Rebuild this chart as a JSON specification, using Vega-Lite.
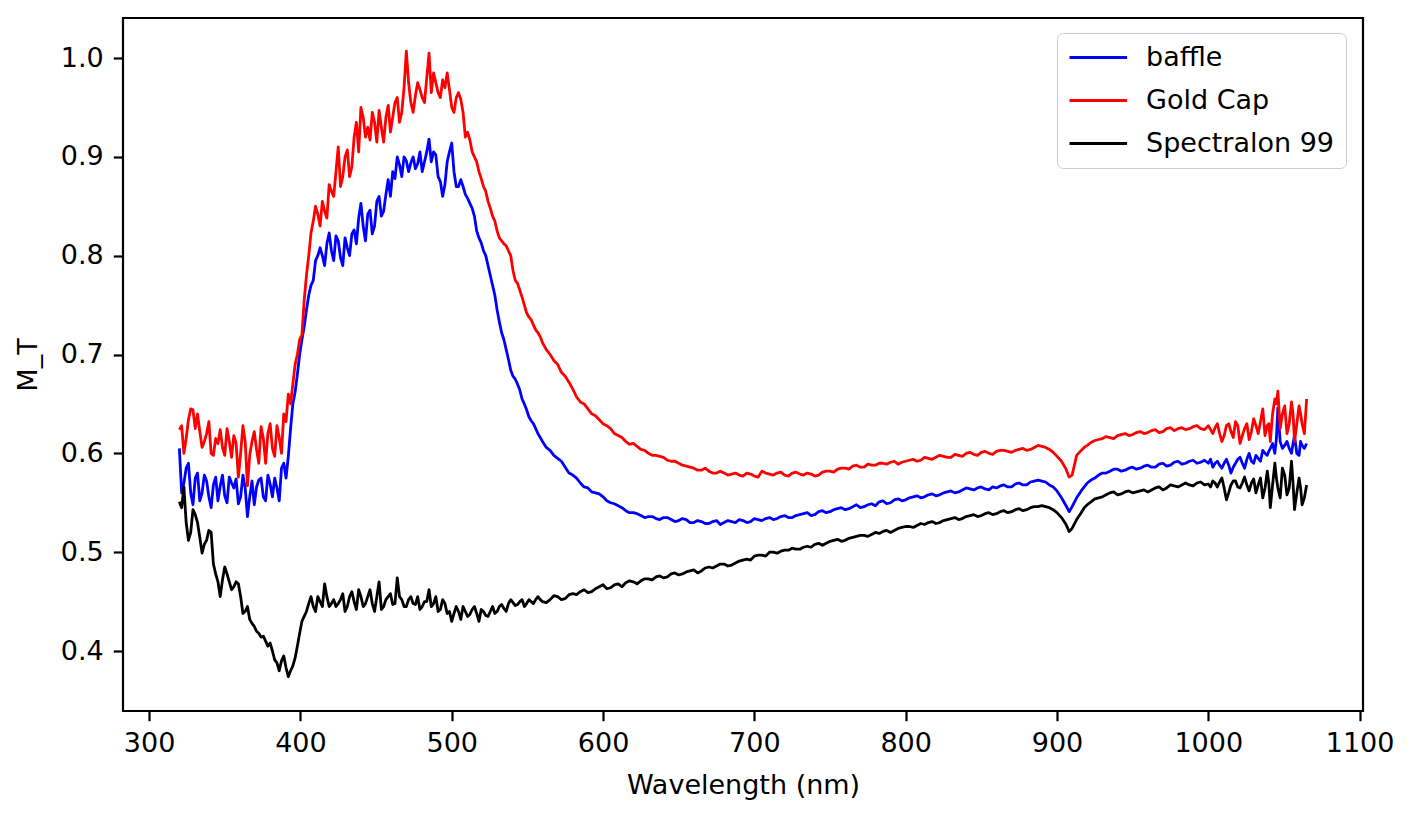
{
  "$schema": "https://vega.github.io/schema/vega-lite/v6.json",
  "autosize": "none",
  "width": 1240,
  "height": 693,
  "padding": {"left": 123, "top": 18, "right": 52, "bottom": 108},
  "background": "white",
  "config": {
    "font": "DejaVu Sans",
    "view": {"stroke": "black", "strokeWidth": 2.2},
    "axis": {
      "domain": false,
      "grid": false,
      "tickColor": "black",
      "tickWidth": 2.2,
      "tickSize": 9.7,
      "labelColor": "black",
      "labelFont": "DejaVu Sans",
      "labelFontSize": 27,
      "labelPadding": 10,
      "titleColor": "black",
      "titleFont": "DejaVu Sans",
      "titleFontSize": 27,
      "titleFontWeight": "normal"
    }
  },
  "data": {
    "values": [
      {"w": 320, "baffle": 0.605, "Gold Cap": 0.624, "Spectralon 99": 0.551},
      {"w": 323, "baffle": 0.570, "Gold Cap": 0.600, "Spectralon 99": 0.566},
      {"w": 326, "baffle": 0.590, "Gold Cap": 0.634, "Spectralon 99": 0.512},
      {"w": 329, "baffle": 0.548, "Gold Cap": 0.644, "Spectralon 99": 0.543},
      {"w": 332, "baffle": 0.580, "Gold Cap": 0.640, "Spectralon 99": 0.530},
      {"w": 335, "baffle": 0.560, "Gold Cap": 0.606, "Spectralon 99": 0.499},
      {"w": 338, "baffle": 0.572, "Gold Cap": 0.620, "Spectralon 99": 0.512},
      {"w": 341, "baffle": 0.545, "Gold Cap": 0.600, "Spectralon 99": 0.520},
      {"w": 344, "baffle": 0.576, "Gold Cap": 0.615, "Spectralon 99": 0.478},
      {"w": 347, "baffle": 0.567, "Gold Cap": 0.624, "Spectralon 99": 0.455},
      {"w": 350, "baffle": 0.557, "Gold Cap": 0.598, "Spectralon 99": 0.485},
      {"w": 353, "baffle": 0.576, "Gold Cap": 0.612, "Spectralon 99": 0.470},
      {"w": 356, "baffle": 0.565, "Gold Cap": 0.618, "Spectralon 99": 0.465},
      {"w": 359, "baffle": 0.549, "Gold Cap": 0.576, "Spectralon 99": 0.468},
      {"w": 362, "baffle": 0.578, "Gold Cap": 0.628, "Spectralon 99": 0.438},
      {"w": 365, "baffle": 0.536, "Gold Cap": 0.567, "Spectralon 99": 0.445},
      {"w": 368, "baffle": 0.572, "Gold Cap": 0.612, "Spectralon 99": 0.428},
      {"w": 371, "baffle": 0.566, "Gold Cap": 0.604, "Spectralon 99": 0.420},
      {"w": 374, "baffle": 0.575, "Gold Cap": 0.627, "Spectralon 99": 0.414},
      {"w": 377, "baffle": 0.552, "Gold Cap": 0.590, "Spectralon 99": 0.410},
      {"w": 380, "baffle": 0.569, "Gold Cap": 0.630, "Spectralon 99": 0.408},
      {"w": 383, "baffle": 0.575, "Gold Cap": 0.597, "Spectralon 99": 0.391},
      {"w": 386, "baffle": 0.552, "Gold Cap": 0.616, "Spectralon 99": 0.380},
      {"w": 389, "baffle": 0.590, "Gold Cap": 0.640, "Spectralon 99": 0.395},
      {"w": 392, "baffle": 0.597, "Gold Cap": 0.660, "Spectralon 99": 0.374},
      {"w": 395, "baffle": 0.650, "Gold Cap": 0.670, "Spectralon 99": 0.385},
      {"w": 398, "baffle": 0.680, "Gold Cap": 0.700, "Spectralon 99": 0.405},
      {"w": 401, "baffle": 0.715, "Gold Cap": 0.720, "Spectralon 99": 0.430},
      {"w": 404, "baffle": 0.745, "Gold Cap": 0.780, "Spectralon 99": 0.440},
      {"w": 407, "baffle": 0.770, "Gold Cap": 0.823, "Spectralon 99": 0.455},
      {"w": 410, "baffle": 0.795, "Gold Cap": 0.850, "Spectralon 99": 0.440},
      {"w": 413, "baffle": 0.808, "Gold Cap": 0.830, "Spectralon 99": 0.450},
      {"w": 416, "baffle": 0.790, "Gold Cap": 0.845, "Spectralon 99": 0.468},
      {"w": 419, "baffle": 0.823, "Gold Cap": 0.872, "Spectralon 99": 0.445},
      {"w": 422, "baffle": 0.795, "Gold Cap": 0.860, "Spectralon 99": 0.452},
      {"w": 425, "baffle": 0.815, "Gold Cap": 0.910, "Spectralon 99": 0.448},
      {"w": 428, "baffle": 0.790, "Gold Cap": 0.880, "Spectralon 99": 0.458},
      {"w": 431, "baffle": 0.808, "Gold Cap": 0.907, "Spectralon 99": 0.445},
      {"w": 434, "baffle": 0.822, "Gold Cap": 0.890, "Spectralon 99": 0.460},
      {"w": 437, "baffle": 0.812, "Gold Cap": 0.935, "Spectralon 99": 0.442},
      {"w": 440, "baffle": 0.853, "Gold Cap": 0.950, "Spectralon 99": 0.455},
      {"w": 443, "baffle": 0.815, "Gold Cap": 0.920, "Spectralon 99": 0.448},
      {"w": 446, "baffle": 0.846, "Gold Cap": 0.917, "Spectralon 99": 0.462},
      {"w": 449, "baffle": 0.830, "Gold Cap": 0.935, "Spectralon 99": 0.440},
      {"w": 452, "baffle": 0.860, "Gold Cap": 0.947, "Spectralon 99": 0.470},
      {"w": 455, "baffle": 0.845, "Gold Cap": 0.915, "Spectralon 99": 0.445},
      {"w": 458, "baffle": 0.877, "Gold Cap": 0.952, "Spectralon 99": 0.455},
      {"w": 461, "baffle": 0.885, "Gold Cap": 0.940, "Spectralon 99": 0.447},
      {"w": 464, "baffle": 0.900, "Gold Cap": 0.960, "Spectralon 99": 0.474},
      {"w": 467, "baffle": 0.880, "Gold Cap": 0.945, "Spectralon 99": 0.452},
      {"w": 470, "baffle": 0.896, "Gold Cap": 1.007, "Spectralon 99": 0.445},
      {"w": 473, "baffle": 0.894, "Gold Cap": 0.955, "Spectralon 99": 0.455},
      {"w": 476, "baffle": 0.888, "Gold Cap": 0.962, "Spectralon 99": 0.447},
      {"w": 479, "baffle": 0.905, "Gold Cap": 0.968, "Spectralon 99": 0.442},
      {"w": 482, "baffle": 0.895, "Gold Cap": 0.955, "Spectralon 99": 0.450},
      {"w": 485, "baffle": 0.918, "Gold Cap": 1.005, "Spectralon 99": 0.462},
      {"w": 488, "baffle": 0.905, "Gold Cap": 0.985, "Spectralon 99": 0.448},
      {"w": 491, "baffle": 0.880, "Gold Cap": 0.965, "Spectralon 99": 0.440},
      {"w": 494, "baffle": 0.860, "Gold Cap": 0.978, "Spectralon 99": 0.452},
      {"w": 497, "baffle": 0.895, "Gold Cap": 0.985, "Spectralon 99": 0.438},
      {"w": 500, "baffle": 0.914, "Gold Cap": 0.950, "Spectralon 99": 0.430},
      {"w": 503, "baffle": 0.870, "Gold Cap": 0.960, "Spectralon 99": 0.445},
      {"w": 506, "baffle": 0.877, "Gold Cap": 0.958, "Spectralon 99": 0.432},
      {"w": 509, "baffle": 0.862, "Gold Cap": 0.920, "Spectralon 99": 0.440},
      {"w": 512, "baffle": 0.853, "Gold Cap": 0.917, "Spectralon 99": 0.437},
      {"w": 515, "baffle": 0.840, "Gold Cap": 0.900, "Spectralon 99": 0.445},
      {"w": 518, "baffle": 0.818, "Gold Cap": 0.885, "Spectralon 99": 0.430},
      {"w": 521, "baffle": 0.805, "Gold Cap": 0.870, "Spectralon 99": 0.440},
      {"w": 524, "baffle": 0.790, "Gold Cap": 0.855, "Spectralon 99": 0.435},
      {"w": 527, "baffle": 0.770, "Gold Cap": 0.840, "Spectralon 99": 0.445},
      {"w": 530, "baffle": 0.745, "Gold Cap": 0.825, "Spectralon 99": 0.440},
      {"w": 533, "baffle": 0.722, "Gold Cap": 0.815, "Spectralon 99": 0.447},
      {"w": 536, "baffle": 0.705, "Gold Cap": 0.810, "Spectralon 99": 0.440},
      {"w": 539, "baffle": 0.684, "Gold Cap": 0.800, "Spectralon 99": 0.452},
      {"w": 542, "baffle": 0.675, "Gold Cap": 0.775, "Spectralon 99": 0.446},
      {"w": 545, "baffle": 0.664, "Gold Cap": 0.765, "Spectralon 99": 0.450},
      {"w": 548, "baffle": 0.650, "Gold Cap": 0.750, "Spectralon 99": 0.445},
      {"w": 551, "baffle": 0.637, "Gold Cap": 0.738, "Spectralon 99": 0.452},
      {"w": 554, "baffle": 0.630, "Gold Cap": 0.730, "Spectralon 99": 0.448},
      {"w": 557, "baffle": 0.620, "Gold Cap": 0.722, "Spectralon 99": 0.455},
      {"w": 560, "baffle": 0.612, "Gold Cap": 0.712, "Spectralon 99": 0.450},
      {"w": 565, "baffle": 0.603, "Gold Cap": 0.700, "Spectralon 99": 0.452},
      {"w": 570, "baffle": 0.595, "Gold Cap": 0.690, "Spectralon 99": 0.455},
      {"w": 575, "baffle": 0.586, "Gold Cap": 0.678, "Spectralon 99": 0.453},
      {"w": 580, "baffle": 0.578, "Gold Cap": 0.665, "Spectralon 99": 0.458},
      {"w": 585, "baffle": 0.570, "Gold Cap": 0.652, "Spectralon 99": 0.460},
      {"w": 590, "baffle": 0.565, "Gold Cap": 0.645, "Spectralon 99": 0.459},
      {"w": 595, "baffle": 0.560, "Gold Cap": 0.638, "Spectralon 99": 0.463},
      {"w": 600, "baffle": 0.556, "Gold Cap": 0.630, "Spectralon 99": 0.467},
      {"w": 605, "baffle": 0.550, "Gold Cap": 0.625, "Spectralon 99": 0.464},
      {"w": 610, "baffle": 0.547, "Gold Cap": 0.618, "Spectralon 99": 0.468},
      {"w": 615, "baffle": 0.542, "Gold Cap": 0.612, "Spectralon 99": 0.469},
      {"w": 620, "baffle": 0.540, "Gold Cap": 0.610, "Spectralon 99": 0.470},
      {"w": 625, "baffle": 0.537, "Gold Cap": 0.604, "Spectralon 99": 0.471},
      {"w": 630, "baffle": 0.536, "Gold Cap": 0.600, "Spectralon 99": 0.473},
      {"w": 635, "baffle": 0.534, "Gold Cap": 0.598, "Spectralon 99": 0.475},
      {"w": 640, "baffle": 0.535, "Gold Cap": 0.596, "Spectralon 99": 0.474},
      {"w": 645, "baffle": 0.533, "Gold Cap": 0.592, "Spectralon 99": 0.478},
      {"w": 650, "baffle": 0.532, "Gold Cap": 0.590, "Spectralon 99": 0.477},
      {"w": 655, "baffle": 0.533, "Gold Cap": 0.587, "Spectralon 99": 0.480},
      {"w": 660, "baffle": 0.530, "Gold Cap": 0.585, "Spectralon 99": 0.482},
      {"w": 665, "baffle": 0.531, "Gold Cap": 0.583, "Spectralon 99": 0.481},
      {"w": 670, "baffle": 0.529, "Gold Cap": 0.582, "Spectralon 99": 0.485},
      {"w": 675, "baffle": 0.532, "Gold Cap": 0.580, "Spectralon 99": 0.486},
      {"w": 680, "baffle": 0.530, "Gold Cap": 0.580, "Spectralon 99": 0.488},
      {"w": 685, "baffle": 0.531, "Gold Cap": 0.579, "Spectralon 99": 0.487},
      {"w": 690, "baffle": 0.533, "Gold Cap": 0.578, "Spectralon 99": 0.491},
      {"w": 695, "baffle": 0.530, "Gold Cap": 0.580, "Spectralon 99": 0.493},
      {"w": 700, "baffle": 0.534, "Gold Cap": 0.577, "Spectralon 99": 0.496},
      {"w": 705, "baffle": 0.532, "Gold Cap": 0.582, "Spectralon 99": 0.497},
      {"w": 710, "baffle": 0.535, "Gold Cap": 0.579, "Spectralon 99": 0.500},
      {"w": 715, "baffle": 0.534, "Gold Cap": 0.580, "Spectralon 99": 0.499},
      {"w": 720, "baffle": 0.537, "Gold Cap": 0.578, "Spectralon 99": 0.502},
      {"w": 725, "baffle": 0.535, "Gold Cap": 0.580, "Spectralon 99": 0.504},
      {"w": 730, "baffle": 0.538, "Gold Cap": 0.579, "Spectralon 99": 0.503},
      {"w": 735, "baffle": 0.540, "Gold Cap": 0.580, "Spectralon 99": 0.506},
      {"w": 740, "baffle": 0.538, "Gold Cap": 0.577, "Spectralon 99": 0.508},
      {"w": 745, "baffle": 0.542, "Gold Cap": 0.581, "Spectralon 99": 0.507},
      {"w": 750, "baffle": 0.541, "Gold Cap": 0.582, "Spectralon 99": 0.511},
      {"w": 755, "baffle": 0.544, "Gold Cap": 0.584, "Spectralon 99": 0.513},
      {"w": 760, "baffle": 0.543, "Gold Cap": 0.585, "Spectralon 99": 0.512},
      {"w": 765, "baffle": 0.546, "Gold Cap": 0.587, "Spectralon 99": 0.515},
      {"w": 770, "baffle": 0.545, "Gold Cap": 0.586, "Spectralon 99": 0.517},
      {"w": 775, "baffle": 0.548, "Gold Cap": 0.589, "Spectralon 99": 0.516},
      {"w": 780, "baffle": 0.547, "Gold Cap": 0.588, "Spectralon 99": 0.520},
      {"w": 785, "baffle": 0.552, "Gold Cap": 0.590, "Spectralon 99": 0.521},
      {"w": 790, "baffle": 0.550, "Gold Cap": 0.591, "Spectralon 99": 0.520},
      {"w": 795, "baffle": 0.554, "Gold Cap": 0.589, "Spectralon 99": 0.524},
      {"w": 800, "baffle": 0.553, "Gold Cap": 0.592, "Spectralon 99": 0.526},
      {"w": 805, "baffle": 0.556, "Gold Cap": 0.594, "Spectralon 99": 0.525},
      {"w": 810, "baffle": 0.555, "Gold Cap": 0.593, "Spectralon 99": 0.529},
      {"w": 815, "baffle": 0.558, "Gold Cap": 0.595, "Spectralon 99": 0.530},
      {"w": 820, "baffle": 0.557, "Gold Cap": 0.596, "Spectralon 99": 0.529},
      {"w": 825, "baffle": 0.560, "Gold Cap": 0.597, "Spectralon 99": 0.532},
      {"w": 830, "baffle": 0.562, "Gold Cap": 0.596, "Spectralon 99": 0.534},
      {"w": 835, "baffle": 0.561, "Gold Cap": 0.598, "Spectralon 99": 0.533},
      {"w": 840, "baffle": 0.565, "Gold Cap": 0.600, "Spectralon 99": 0.536},
      {"w": 845, "baffle": 0.563, "Gold Cap": 0.599, "Spectralon 99": 0.538},
      {"w": 850, "baffle": 0.566, "Gold Cap": 0.601, "Spectralon 99": 0.537},
      {"w": 855, "baffle": 0.563, "Gold Cap": 0.600, "Spectralon 99": 0.540},
      {"w": 860, "baffle": 0.565, "Gold Cap": 0.602, "Spectralon 99": 0.539},
      {"w": 865, "baffle": 0.568, "Gold Cap": 0.603, "Spectralon 99": 0.542},
      {"w": 870, "baffle": 0.566, "Gold Cap": 0.601, "Spectralon 99": 0.541},
      {"w": 875, "baffle": 0.570, "Gold Cap": 0.604, "Spectralon 99": 0.544},
      {"w": 880, "baffle": 0.568, "Gold Cap": 0.603, "Spectralon 99": 0.543},
      {"w": 885, "baffle": 0.572, "Gold Cap": 0.606, "Spectralon 99": 0.546},
      {"w": 890, "baffle": 0.572, "Gold Cap": 0.607, "Spectralon 99": 0.547},
      {"w": 895, "baffle": 0.568, "Gold Cap": 0.604, "Spectralon 99": 0.545},
      {"w": 900, "baffle": 0.562, "Gold Cap": 0.597, "Spectralon 99": 0.540},
      {"w": 903, "baffle": 0.555, "Gold Cap": 0.592, "Spectralon 99": 0.535},
      {"w": 906, "baffle": 0.547, "Gold Cap": 0.584, "Spectralon 99": 0.528},
      {"w": 908, "baffle": 0.541, "Gold Cap": 0.576, "Spectralon 99": 0.521},
      {"w": 910, "baffle": 0.546, "Gold Cap": 0.578, "Spectralon 99": 0.524},
      {"w": 913, "baffle": 0.555, "Gold Cap": 0.598, "Spectralon 99": 0.533},
      {"w": 916, "baffle": 0.562, "Gold Cap": 0.603, "Spectralon 99": 0.540},
      {"w": 920, "baffle": 0.570, "Gold Cap": 0.608, "Spectralon 99": 0.548},
      {"w": 925, "baffle": 0.575, "Gold Cap": 0.613, "Spectralon 99": 0.554},
      {"w": 930, "baffle": 0.580, "Gold Cap": 0.615, "Spectralon 99": 0.556},
      {"w": 935, "baffle": 0.582, "Gold Cap": 0.616, "Spectralon 99": 0.560},
      {"w": 940, "baffle": 0.584, "Gold Cap": 0.618, "Spectralon 99": 0.558},
      {"w": 945, "baffle": 0.583, "Gold Cap": 0.620, "Spectralon 99": 0.561},
      {"w": 950, "baffle": 0.586, "Gold Cap": 0.619, "Spectralon 99": 0.560},
      {"w": 955, "baffle": 0.585, "Gold Cap": 0.622, "Spectralon 99": 0.562},
      {"w": 960, "baffle": 0.588, "Gold Cap": 0.621, "Spectralon 99": 0.561},
      {"w": 965, "baffle": 0.586, "Gold Cap": 0.624, "Spectralon 99": 0.565},
      {"w": 970, "baffle": 0.590, "Gold Cap": 0.622, "Spectralon 99": 0.563},
      {"w": 975, "baffle": 0.588, "Gold Cap": 0.626, "Spectralon 99": 0.568},
      {"w": 980, "baffle": 0.592, "Gold Cap": 0.625, "Spectralon 99": 0.566},
      {"w": 985, "baffle": 0.590, "Gold Cap": 0.624, "Spectralon 99": 0.570},
      {"w": 990, "baffle": 0.593, "Gold Cap": 0.627, "Spectralon 99": 0.567},
      {"w": 995, "baffle": 0.591, "Gold Cap": 0.625, "Spectralon 99": 0.571},
      {"w": 1000, "baffle": 0.590, "Gold Cap": 0.628, "Spectralon 99": 0.569},
      {"w": 1003, "baffle": 0.586, "Gold Cap": 0.620, "Spectralon 99": 0.572},
      {"w": 1006, "baffle": 0.592, "Gold Cap": 0.630, "Spectralon 99": 0.566},
      {"w": 1009, "baffle": 0.585, "Gold Cap": 0.612, "Spectralon 99": 0.575},
      {"w": 1012, "baffle": 0.594, "Gold Cap": 0.628, "Spectralon 99": 0.553},
      {"w": 1015, "baffle": 0.580, "Gold Cap": 0.622, "Spectralon 99": 0.568},
      {"w": 1018, "baffle": 0.590, "Gold Cap": 0.632, "Spectralon 99": 0.572},
      {"w": 1021, "baffle": 0.596, "Gold Cap": 0.610, "Spectralon 99": 0.565},
      {"w": 1024, "baffle": 0.585, "Gold Cap": 0.625, "Spectralon 99": 0.576},
      {"w": 1027, "baffle": 0.600, "Gold Cap": 0.614, "Spectralon 99": 0.562},
      {"w": 1030, "baffle": 0.590, "Gold Cap": 0.635, "Spectralon 99": 0.574},
      {"w": 1033, "baffle": 0.595, "Gold Cap": 0.620, "Spectralon 99": 0.568},
      {"w": 1036, "baffle": 0.603, "Gold Cap": 0.645, "Spectralon 99": 0.555},
      {"w": 1039, "baffle": 0.598, "Gold Cap": 0.628, "Spectralon 99": 0.582},
      {"w": 1041, "baffle": 0.605, "Gold Cap": 0.612, "Spectralon 99": 0.545},
      {"w": 1044, "baffle": 0.600, "Gold Cap": 0.655, "Spectralon 99": 0.590},
      {"w": 1046, "baffle": 0.646, "Gold Cap": 0.663, "Spectralon 99": 0.565},
      {"w": 1049, "baffle": 0.605, "Gold Cap": 0.640, "Spectralon 99": 0.585},
      {"w": 1052, "baffle": 0.612, "Gold Cap": 0.620, "Spectralon 99": 0.558},
      {"w": 1055, "baffle": 0.600, "Gold Cap": 0.652, "Spectralon 99": 0.592},
      {"w": 1057, "baffle": 0.618, "Gold Cap": 0.612, "Spectralon 99": 0.543},
      {"w": 1060, "baffle": 0.598, "Gold Cap": 0.648, "Spectralon 99": 0.575},
      {"w": 1062, "baffle": 0.608, "Gold Cap": 0.630, "Spectralon 99": 0.548},
      {"w": 1065, "baffle": 0.610, "Gold Cap": 0.655, "Spectralon 99": 0.568},
      {"w": 321.5, "baffle": 0.560, "Gold Cap": 0.628, "Spectralon 99": 0.545},
      {"w": 324.5, "baffle": 0.585, "Gold Cap": 0.615, "Spectralon 99": 0.530},
      {"w": 327.5, "baffle": 0.560, "Gold Cap": 0.645, "Spectralon 99": 0.520},
      {"w": 330.5, "baffle": 0.575, "Gold Cap": 0.625, "Spectralon 99": 0.538},
      {"w": 333.5, "baffle": 0.552, "Gold Cap": 0.622, "Spectralon 99": 0.515},
      {"w": 336.5, "baffle": 0.578, "Gold Cap": 0.612, "Spectralon 99": 0.508},
      {"w": 339.5, "baffle": 0.556, "Gold Cap": 0.632, "Spectralon 99": 0.522},
      {"w": 342.5, "baffle": 0.568, "Gold Cap": 0.598, "Spectralon 99": 0.488},
      {"w": 345.5, "baffle": 0.552, "Gold Cap": 0.610, "Spectralon 99": 0.470},
      {"w": 348.5, "baffle": 0.578, "Gold Cap": 0.606, "Spectralon 99": 0.472},
      {"w": 351.5, "baffle": 0.550, "Gold Cap": 0.625, "Spectralon 99": 0.478},
      {"w": 354.5, "baffle": 0.570, "Gold Cap": 0.596, "Spectralon 99": 0.462},
      {"w": 357.5, "baffle": 0.574, "Gold Cap": 0.610, "Spectralon 99": 0.470},
      {"w": 360.5, "baffle": 0.556, "Gold Cap": 0.600, "Spectralon 99": 0.455},
      {"w": 363.5, "baffle": 0.565, "Gold Cap": 0.612, "Spectralon 99": 0.440},
      {"w": 366.5, "baffle": 0.556, "Gold Cap": 0.598, "Spectralon 99": 0.432},
      {"w": 369.5, "baffle": 0.548, "Gold Cap": 0.622, "Spectralon 99": 0.425},
      {"w": 372.5, "baffle": 0.573, "Gold Cap": 0.590, "Spectralon 99": 0.418},
      {"w": 375.5, "baffle": 0.556, "Gold Cap": 0.615, "Spectralon 99": 0.415},
      {"w": 378.5, "baffle": 0.578, "Gold Cap": 0.620, "Spectralon 99": 0.405},
      {"w": 381.5, "baffle": 0.556, "Gold Cap": 0.605, "Spectralon 99": 0.400},
      {"w": 384.5, "baffle": 0.565, "Gold Cap": 0.628, "Spectralon 99": 0.388},
      {"w": 387.5, "baffle": 0.585, "Gold Cap": 0.600, "Spectralon 99": 0.390},
      {"w": 390.5, "baffle": 0.575, "Gold Cap": 0.632, "Spectralon 99": 0.383},
      {"w": 393.5, "baffle": 0.625, "Gold Cap": 0.650, "Spectralon 99": 0.380},
      {"w": 396.5, "baffle": 0.662, "Gold Cap": 0.690, "Spectralon 99": 0.393},
      {"w": 399.5, "baffle": 0.700, "Gold Cap": 0.715, "Spectralon 99": 0.418},
      {"w": 402.5, "baffle": 0.728, "Gold Cap": 0.755, "Spectralon 99": 0.435},
      {"w": 405.5, "baffle": 0.760, "Gold Cap": 0.800, "Spectralon 99": 0.448},
      {"w": 408.5, "baffle": 0.775, "Gold Cap": 0.835, "Spectralon 99": 0.445},
      {"w": 411.5, "baffle": 0.800, "Gold Cap": 0.842, "Spectralon 99": 0.455},
      {"w": 414.5, "baffle": 0.800, "Gold Cap": 0.855, "Spectralon 99": 0.445},
      {"w": 417.5, "baffle": 0.812, "Gold Cap": 0.838, "Spectralon 99": 0.455},
      {"w": 420.5, "baffle": 0.805, "Gold Cap": 0.865, "Spectralon 99": 0.448},
      {"w": 423.5, "baffle": 0.820, "Gold Cap": 0.885, "Spectralon 99": 0.445},
      {"w": 426.5, "baffle": 0.798, "Gold Cap": 0.870, "Spectralon 99": 0.452},
      {"w": 429.5, "baffle": 0.818, "Gold Cap": 0.900, "Spectralon 99": 0.440},
      {"w": 432.5, "baffle": 0.800, "Gold Cap": 0.880, "Spectralon 99": 0.455},
      {"w": 435.5, "baffle": 0.826, "Gold Cap": 0.920, "Spectralon 99": 0.450},
      {"w": 438.5, "baffle": 0.838, "Gold Cap": 0.905, "Spectralon 99": 0.462},
      {"w": 441.5, "baffle": 0.830, "Gold Cap": 0.940, "Spectralon 99": 0.445},
      {"w": 444.5, "baffle": 0.842, "Gold Cap": 0.930, "Spectralon 99": 0.455},
      {"w": 447.5, "baffle": 0.822, "Gold Cap": 0.945, "Spectralon 99": 0.448},
      {"w": 450.5, "baffle": 0.855, "Gold Cap": 0.915, "Spectralon 99": 0.455},
      {"w": 453.5, "baffle": 0.840, "Gold Cap": 0.930, "Spectralon 99": 0.442},
      {"w": 456.5, "baffle": 0.862, "Gold Cap": 0.940, "Spectralon 99": 0.452},
      {"w": 459.5, "baffle": 0.860, "Gold Cap": 0.925, "Spectralon 99": 0.458},
      {"w": 462.5, "baffle": 0.878, "Gold Cap": 0.955, "Spectralon 99": 0.448},
      {"w": 465.5, "baffle": 0.892, "Gold Cap": 0.935, "Spectralon 99": 0.455},
      {"w": 468.5, "baffle": 0.900, "Gold Cap": 0.970, "Spectralon 99": 0.445},
      {"w": 471.5, "baffle": 0.885, "Gold Cap": 0.975, "Spectralon 99": 0.452},
      {"w": 474.5, "baffle": 0.900, "Gold Cap": 0.945, "Spectralon 99": 0.448},
      {"w": 477.5, "baffle": 0.893, "Gold Cap": 0.975, "Spectralon 99": 0.455},
      {"w": 480.5, "baffle": 0.885, "Gold Cap": 0.960, "Spectralon 99": 0.445},
      {"w": 483.5, "baffle": 0.905, "Gold Cap": 0.980, "Spectralon 99": 0.450},
      {"w": 486.5, "baffle": 0.895, "Gold Cap": 0.965, "Spectralon 99": 0.445},
      {"w": 489.5, "baffle": 0.902, "Gold Cap": 0.975, "Spectralon 99": 0.455},
      {"w": 492.5, "baffle": 0.875, "Gold Cap": 0.960, "Spectralon 99": 0.442},
      {"w": 495.5, "baffle": 0.872, "Gold Cap": 0.970, "Spectralon 99": 0.448},
      {"w": 498.5, "baffle": 0.905, "Gold Cap": 0.968, "Spectralon 99": 0.440},
      {"w": 501.5, "baffle": 0.885, "Gold Cap": 0.945, "Spectralon 99": 0.438},
      {"w": 504.5, "baffle": 0.870, "Gold Cap": 0.965, "Spectralon 99": 0.440},
      {"w": 507.5, "baffle": 0.870, "Gold Cap": 0.945, "Spectralon 99": 0.445},
      {"w": 510.5, "baffle": 0.858, "Gold Cap": 0.925, "Spectralon 99": 0.435},
      {"w": 513.5, "baffle": 0.848, "Gold Cap": 0.905, "Spectralon 99": 0.442},
      {"w": 516.5, "baffle": 0.825, "Gold Cap": 0.895, "Spectralon 99": 0.438},
      {"w": 519.5, "baffle": 0.813, "Gold Cap": 0.878, "Spectralon 99": 0.442},
      {"w": 522.5, "baffle": 0.800, "Gold Cap": 0.865, "Spectralon 99": 0.436},
      {"w": 525.5, "baffle": 0.780, "Gold Cap": 0.848, "Spectralon 99": 0.440},
      {"w": 528.5, "baffle": 0.760, "Gold Cap": 0.835, "Spectralon 99": 0.438},
      {"w": 531.5, "baffle": 0.733, "Gold Cap": 0.818, "Spectralon 99": 0.445},
      {"w": 534.5, "baffle": 0.715, "Gold Cap": 0.812, "Spectralon 99": 0.443},
      {"w": 537.5, "baffle": 0.695, "Gold Cap": 0.805, "Spectralon 99": 0.448},
      {"w": 540.5, "baffle": 0.678, "Gold Cap": 0.785, "Spectralon 99": 0.449},
      {"w": 543.5, "baffle": 0.670, "Gold Cap": 0.772, "Spectralon 99": 0.447},
      {"w": 546.5, "baffle": 0.655, "Gold Cap": 0.758, "Spectralon 99": 0.452},
      {"w": 549.5, "baffle": 0.644, "Gold Cap": 0.742, "Spectralon 99": 0.448},
      {"w": 552.5, "baffle": 0.633, "Gold Cap": 0.735, "Spectralon 99": 0.450},
      {"w": 555.5, "baffle": 0.625, "Gold Cap": 0.725, "Spectralon 99": 0.452},
      {"w": 558.5, "baffle": 0.616, "Gold Cap": 0.718, "Spectralon 99": 0.452},
      {"w": 562.5, "baffle": 0.606, "Gold Cap": 0.705, "Spectralon 99": 0.449},
      {"w": 567.5, "baffle": 0.598, "Gold Cap": 0.694, "Spectralon 99": 0.456},
      {"w": 572.5, "baffle": 0.592, "Gold Cap": 0.682, "Spectralon 99": 0.452},
      {"w": 577.5, "baffle": 0.580, "Gold Cap": 0.672, "Spectralon 99": 0.457},
      {"w": 582.5, "baffle": 0.575, "Gold Cap": 0.657, "Spectralon 99": 0.457},
      {"w": 587.5, "baffle": 0.566, "Gold Cap": 0.650, "Spectralon 99": 0.462},
      {"w": 592.5, "baffle": 0.561, "Gold Cap": 0.640, "Spectralon 99": 0.460},
      {"w": 597.5, "baffle": 0.559, "Gold Cap": 0.634, "Spectralon 99": 0.465},
      {"w": 602.5, "baffle": 0.552, "Gold Cap": 0.628, "Spectralon 99": 0.463},
      {"w": 607.5, "baffle": 0.549, "Gold Cap": 0.620, "Spectralon 99": 0.467},
      {"w": 612.5, "baffle": 0.545, "Gold Cap": 0.616, "Spectralon 99": 0.465},
      {"w": 617.5, "baffle": 0.540, "Gold Cap": 0.609, "Spectralon 99": 0.471},
      {"w": 622.5, "baffle": 0.539, "Gold Cap": 0.607, "Spectralon 99": 0.468},
      {"w": 627.5, "baffle": 0.535, "Gold Cap": 0.603, "Spectralon 99": 0.473},
      {"w": 632.5, "baffle": 0.536, "Gold Cap": 0.598, "Spectralon 99": 0.472},
      {"w": 637.5, "baffle": 0.533, "Gold Cap": 0.597, "Spectralon 99": 0.476},
      {"w": 642.5, "baffle": 0.535, "Gold Cap": 0.593, "Spectralon 99": 0.475},
      {"w": 647.5, "baffle": 0.531, "Gold Cap": 0.592, "Spectralon 99": 0.479},
      {"w": 652.5, "baffle": 0.534, "Gold Cap": 0.588, "Spectralon 99": 0.478},
      {"w": 657.5, "baffle": 0.530, "Gold Cap": 0.586, "Spectralon 99": 0.481},
      {"w": 662.5, "baffle": 0.532, "Gold Cap": 0.583, "Spectralon 99": 0.479},
      {"w": 667.5, "baffle": 0.529, "Gold Cap": 0.585, "Spectralon 99": 0.484},
      {"w": 672.5, "baffle": 0.531, "Gold Cap": 0.580, "Spectralon 99": 0.484},
      {"w": 677.5, "baffle": 0.528, "Gold Cap": 0.582, "Spectralon 99": 0.488},
      {"w": 682.5, "baffle": 0.532, "Gold Cap": 0.578, "Spectralon 99": 0.486},
      {"w": 687.5, "baffle": 0.530, "Gold Cap": 0.580, "Spectralon 99": 0.489},
      {"w": 692.5, "baffle": 0.532, "Gold Cap": 0.577, "Spectralon 99": 0.492},
      {"w": 697.5, "baffle": 0.531, "Gold Cap": 0.579, "Spectralon 99": 0.492},
      {"w": 702.5, "baffle": 0.533, "Gold Cap": 0.576, "Spectralon 99": 0.497},
      {"w": 707.5, "baffle": 0.534, "Gold Cap": 0.580, "Spectralon 99": 0.496},
      {"w": 712.5, "baffle": 0.533, "Gold Cap": 0.578, "Spectralon 99": 0.500},
      {"w": 717.5, "baffle": 0.536, "Gold Cap": 0.581, "Spectralon 99": 0.501},
      {"w": 722.5, "baffle": 0.535, "Gold Cap": 0.577, "Spectralon 99": 0.502},
      {"w": 727.5, "baffle": 0.537, "Gold Cap": 0.581, "Spectralon 99": 0.503},
      {"w": 732.5, "baffle": 0.539, "Gold Cap": 0.578, "Spectralon 99": 0.505},
      {"w": 737.5, "baffle": 0.537, "Gold Cap": 0.579, "Spectralon 99": 0.505},
      {"w": 742.5, "baffle": 0.541, "Gold Cap": 0.578, "Spectralon 99": 0.509},
      {"w": 747.5, "baffle": 0.540, "Gold Cap": 0.582, "Spectralon 99": 0.509},
      {"w": 752.5, "baffle": 0.543, "Gold Cap": 0.581, "Spectralon 99": 0.512},
      {"w": 757.5, "baffle": 0.545, "Gold Cap": 0.585, "Spectralon 99": 0.511},
      {"w": 762.5, "baffle": 0.544, "Gold Cap": 0.584, "Spectralon 99": 0.514},
      {"w": 767.5, "baffle": 0.548, "Gold Cap": 0.588, "Spectralon 99": 0.516},
      {"w": 772.5, "baffle": 0.546, "Gold Cap": 0.586, "Spectralon 99": 0.517},
      {"w": 777.5, "baffle": 0.549, "Gold Cap": 0.588, "Spectralon 99": 0.518},
      {"w": 782.5, "baffle": 0.551, "Gold Cap": 0.590, "Spectralon 99": 0.519},
      {"w": 787.5, "baffle": 0.549, "Gold Cap": 0.589, "Spectralon 99": 0.522},
      {"w": 792.5, "baffle": 0.553, "Gold Cap": 0.592, "Spectralon 99": 0.522},
      {"w": 797.5, "baffle": 0.552, "Gold Cap": 0.591, "Spectralon 99": 0.525},
      {"w": 802.5, "baffle": 0.555, "Gold Cap": 0.593, "Spectralon 99": 0.526},
      {"w": 807.5, "baffle": 0.557, "Gold Cap": 0.592, "Spectralon 99": 0.527},
      {"w": 812.5, "baffle": 0.556, "Gold Cap": 0.596, "Spectralon 99": 0.528},
      {"w": 817.5, "baffle": 0.559, "Gold Cap": 0.594, "Spectralon 99": 0.531},
      {"w": 822.5, "baffle": 0.558, "Gold Cap": 0.598, "Spectralon 99": 0.530},
      {"w": 827.5, "baffle": 0.561, "Gold Cap": 0.596, "Spectralon 99": 0.533},
      {"w": 832.5, "baffle": 0.560, "Gold Cap": 0.599, "Spectralon 99": 0.535},
      {"w": 837.5, "baffle": 0.563, "Gold Cap": 0.597, "Spectralon 99": 0.534},
      {"w": 842.5, "baffle": 0.564, "Gold Cap": 0.601, "Spectralon 99": 0.537},
      {"w": 847.5, "baffle": 0.565, "Gold Cap": 0.598, "Spectralon 99": 0.536},
      {"w": 852.5, "baffle": 0.564, "Gold Cap": 0.602, "Spectralon 99": 0.539},
      {"w": 857.5, "baffle": 0.566, "Gold Cap": 0.599, "Spectralon 99": 0.538},
      {"w": 862.5, "baffle": 0.567, "Gold Cap": 0.603, "Spectralon 99": 0.541},
      {"w": 867.5, "baffle": 0.566, "Gold Cap": 0.602, "Spectralon 99": 0.540},
      {"w": 872.5, "baffle": 0.569, "Gold Cap": 0.603, "Spectralon 99": 0.543},
      {"w": 877.5, "baffle": 0.568, "Gold Cap": 0.605, "Spectralon 99": 0.542},
      {"w": 882.5, "baffle": 0.571, "Gold Cap": 0.604, "Spectralon 99": 0.545},
      {"w": 887.5, "baffle": 0.573, "Gold Cap": 0.608, "Spectralon 99": 0.546},
      {"w": 892.5, "baffle": 0.571, "Gold Cap": 0.606, "Spectralon 99": 0.546},
      {"w": 897.5, "baffle": 0.566, "Gold Cap": 0.601, "Spectralon 99": 0.543},
      {"w": 918, "baffle": 0.566, "Gold Cap": 0.606, "Spectralon 99": 0.545},
      {"w": 922.5, "baffle": 0.573, "Gold Cap": 0.611, "Spectralon 99": 0.551},
      {"w": 927.5, "baffle": 0.578, "Gold Cap": 0.614, "Spectralon 99": 0.555},
      {"w": 932.5, "baffle": 0.580, "Gold Cap": 0.617, "Spectralon 99": 0.558},
      {"w": 937.5, "baffle": 0.584, "Gold Cap": 0.615, "Spectralon 99": 0.561},
      {"w": 942.5, "baffle": 0.582, "Gold Cap": 0.619, "Spectralon 99": 0.559},
      {"w": 947.5, "baffle": 0.585, "Gold Cap": 0.618, "Spectralon 99": 0.562},
      {"w": 952.5, "baffle": 0.584, "Gold Cap": 0.621, "Spectralon 99": 0.561},
      {"w": 957.5, "baffle": 0.587, "Gold Cap": 0.620, "Spectralon 99": 0.563},
      {"w": 962.5, "baffle": 0.586, "Gold Cap": 0.623, "Spectralon 99": 0.563},
      {"w": 967.5, "baffle": 0.589, "Gold Cap": 0.621, "Spectralon 99": 0.566},
      {"w": 972.5, "baffle": 0.587, "Gold Cap": 0.625, "Spectralon 99": 0.565},
      {"w": 977.5, "baffle": 0.591, "Gold Cap": 0.623, "Spectralon 99": 0.567},
      {"w": 982.5, "baffle": 0.589, "Gold Cap": 0.626, "Spectralon 99": 0.568},
      {"w": 987.5, "baffle": 0.592, "Gold Cap": 0.625, "Spectralon 99": 0.568},
      {"w": 992.5, "baffle": 0.590, "Gold Cap": 0.628, "Spectralon 99": 0.570},
      {"w": 997.5, "baffle": 0.593, "Gold Cap": 0.624, "Spectralon 99": 0.568},
      {"w": 1001.5, "baffle": 0.594, "Gold Cap": 0.624, "Spectralon 99": 0.566},
      {"w": 1004.5, "baffle": 0.590, "Gold Cap": 0.626, "Spectralon 99": 0.570},
      {"w": 1007.5, "baffle": 0.588, "Gold Cap": 0.620, "Spectralon 99": 0.571},
      {"w": 1010.5, "baffle": 0.590, "Gold Cap": 0.618, "Spectralon 99": 0.565},
      {"w": 1013.5, "baffle": 0.588, "Gold Cap": 0.630, "Spectralon 99": 0.560},
      {"w": 1016.5, "baffle": 0.586, "Gold Cap": 0.616, "Spectralon 99": 0.572},
      {"w": 1019.5, "baffle": 0.594, "Gold Cap": 0.628, "Spectralon 99": 0.566},
      {"w": 1022.5, "baffle": 0.590, "Gold Cap": 0.618, "Spectralon 99": 0.570},
      {"w": 1025.5, "baffle": 0.594, "Gold Cap": 0.630, "Spectralon 99": 0.568},
      {"w": 1028.5, "baffle": 0.592, "Gold Cap": 0.622, "Spectralon 99": 0.570},
      {"w": 1031.5, "baffle": 0.598, "Gold Cap": 0.628, "Spectralon 99": 0.560},
      {"w": 1034.5, "baffle": 0.592, "Gold Cap": 0.632, "Spectralon 99": 0.575},
      {"w": 1037.5, "baffle": 0.600, "Gold Cap": 0.618, "Spectralon 99": 0.565},
      {"w": 1040, "baffle": 0.602, "Gold Cap": 0.630, "Spectralon 99": 0.570},
      {"w": 1042.5, "baffle": 0.610, "Gold Cap": 0.640, "Spectralon 99": 0.568},
      {"w": 1045, "baffle": 0.615, "Gold Cap": 0.650, "Spectralon 99": 0.575},
      {"w": 1047.5, "baffle": 0.612, "Gold Cap": 0.625, "Spectralon 99": 0.555},
      {"w": 1050.5, "baffle": 0.608, "Gold Cap": 0.648, "Spectralon 99": 0.578},
      {"w": 1053.5, "baffle": 0.605, "Gold Cap": 0.630, "Spectralon 99": 0.565},
      {"w": 1056, "baffle": 0.610, "Gold Cap": 0.640, "Spectralon 99": 0.570},
      {"w": 1058.5, "baffle": 0.600, "Gold Cap": 0.630, "Spectralon 99": 0.560},
      {"w": 1061, "baffle": 0.612, "Gold Cap": 0.640, "Spectralon 99": 0.565},
      {"w": 1063.5, "baffle": 0.605, "Gold Cap": 0.620, "Spectralon 99": 0.555}
    ]
  },
  "transform": [
    {"fold": ["baffle", "Gold Cap", "Spectralon 99"], "as": ["series", "value"]}
  ],
  "mark": {"type": "line", "strokeWidth": 2.8, "strokeJoin": "round"},
  "encoding": {
    "x": {
      "field": "w",
      "type": "quantitative",
      "title": "Wavelength (nm)",
      "scale": {"domain": [282.75, 1102.25], "nice": false, "zero": false},
      "axis": {"values": [300, 400, 500, 600, 700, 800, 900, 1000, 1100], "format": "d", "titlePadding": 16}
    },
    "y": {
      "field": "value",
      "type": "quantitative",
      "title": "M_T",
      "scale": {"domain": [0.3393, 1.0405], "nice": false, "zero": false},
      "axis": {"values": [0.4, 0.5, 0.6, 0.7, 0.8, 0.9, 1.0], "format": ".1f", "titlePadding": 18}
    },
    "color": {
      "field": "series",
      "type": "nominal",
      "scale": {"domain": ["baffle", "Gold Cap", "Spectralon 99"], "range": ["#0000ff", "#ff0000", "#000000"]},
      "legend": {
        "title": null,
        "orient": "none",
        "legendX": 934,
        "legendY": 15,
        "symbolType": "M-1,0L3.8,0",
        "symbolSize": 576,
        "symbolStrokeWidth": 2.8,
        "labelFont": "DejaVu Sans",
        "labelFontSize": 27,
        "labelColor": "black",
        "labelLimit": 0,
        "labelOffset": 51,
        "rowPadding": 15,
        "padding": 11,
        "strokeColor": "#cccccc",
        "cornerRadius": 6,
        "fillColor": "rgba(255,255,255,0.8)"
      }
    },
    "order": {"field": "w", "type": "quantitative"}
  }
}
